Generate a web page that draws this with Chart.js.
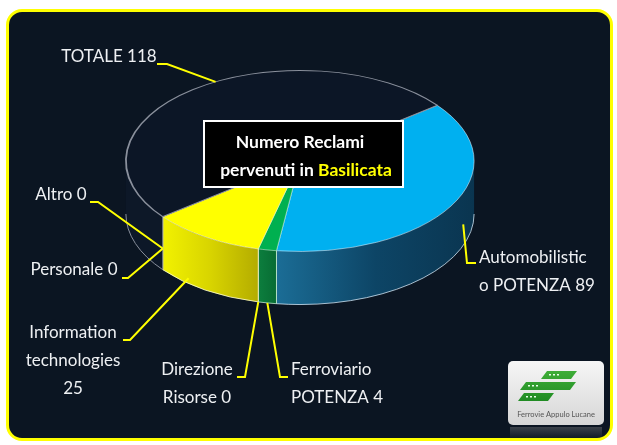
<!DOCTYPE html>
<html>
<head>
<meta charset="utf-8">
<script src="https://cdn.jsdelivr.net/npm/chart.js@4.4.0/dist/chart.umd.min.js"></script>
<style>
html, body { margin: 0; padding: 0; background: #ffffff; }
#wrap { position: relative; width: 617px; height: 445px; overflow: hidden; }
#panel { position: absolute; left: 6px; top: 9px; width: 601px; height: 426px;
  border: 3px solid #ffff00; border-radius: 16px; background: #0b1522; }
#PieChart { position: absolute; left: 0; top: 0; }
</style>
</head>
<body>
<div id="wrap">
  <div id="panel"></div>
  <canvas id="PieChart" width="617" height="445"></canvas>
</div>
<script>
// data, clockwise from the upper right
var categories = ["Automobilistico POTENZA", "Ferroviario POTENZA", "Direzione Risorse",
                  "Information technologies", "Personale", "Altro", "TOTALE"];
var values = [89, 4, 0, 25, 0, 0, 118];
var labelLines = [
  ["Automobilistic", "o POTENZA 89"],
  ["Ferroviario", "POTENZA 4"],
  ["Direzione", "Risorse 0"],
  ["Information", "technologies", "25"],
  ["Personale 0"],
  ["Altro 0"],
  ["TOTALE 118"]
];
var titleLines = ["Numero Reclami", "pervenuti in ", "Basilicata"];

// styling
var topColors = ["#00b0f0", "#00b050", "#00b050", "#ffff00", "#ffff00", "#ffff00", "#0c1626"];
var edgeColors = ["rgba(220,240,255,0.75)", "rgba(220,255,230,0.7)", "rgba(220,255,230,0.7)",
                  "rgba(255,255,220,0.8)", "rgba(255,255,220,0.8)", "rgba(255,255,220,0.8)", "#8a909c"];
var edgeWidths = [1, 1, 1, 1, 1, 1, 1.8];
var sideStops = [
  [[0, "#1b6d96"], [0.5, "#0d4566"], [1, "#0a3550"]],
  [[0, "#0c7e3e"], [1, "#086c33"]],
  [[0, "#0c7e3e"], [1, "#086c33"]],
  [[0, "#f2f200"], [0.5, "#d8d400"], [1, "#b4ac00"]],
  [[0, "#f2f200"], [1, "#b4ac00"]],
  [[0, "#f2f200"], [1, "#b4ac00"]],
  [[0, "#0d1828"], [1, "#0d1828"]]
];
// text anchor, elbow of each leader line, and where it touches the slice
var labelBoxes = [
  { x: 479, y: 258, align: "left",   elbow: [476, 467, 263], frac: 0.43, depth: 0.6 },
  { x: 291, y: 370, align: "left",   elbow: [288, 280, 377], frac: 0.5,  depth: 1 },
  { x: 197, y: 370, align: "center", elbow: [237, 245, 377], frac: 0,    depth: 1 },
  { x: 73,  y: 333, align: "center", elbow: [123, 130, 340], frac: 0.68, depth: 0.9 },
  { x: 74,  y: 270, align: "center", elbow: [122, 128, 278], frac: 0,    depth: 0.6 },
  { x: 61,  y: 195, align: "center", elbow: [90, 98, 202],   frac: 0,    depth: 0.6 },
  { x: 109, y: 57,  align: "center", elbow: [157, 167, 64],  frac: 0.55, depth: 0 }
];
var TILT = 0.52, DEPTH = 53, TOP_CY = 161;
var FONT = "Lato, 'Open Sans', sans-serif";

function topY(arc, a) { return TOP_CY + arc.outerRadius * TILT * Math.sin(a); }

var pie3d = {
  id: "pie3d",
  beforeDatasetsDraw: function (chart) {
    var ctx = chart.ctx;
    var arcs = chart.getDatasetMeta(0).data;
    arcs.forEach(function (arc, i) {
      if (!values[i]) return;
      var a1 = Math.max(arc.startAngle, 0), a2 = Math.min(arc.endAngle, Math.PI);
      if (a2 <= a1) return;
      var R = arc.outerRadius, cx = arc.x;
      var xl = cx + R * Math.cos(a2), xr = cx + R * Math.cos(a1);
      var g = ctx.createLinearGradient(xl, 0, xr, 0);
      sideStops[i].forEach(function (s) { g.addColorStop(s[0], s[1]); });
      ctx.save();
      ctx.beginPath();
      ctx.ellipse(cx, TOP_CY, R, R * TILT, 0, a1, a2, false);
      ctx.ellipse(cx, TOP_CY + DEPTH, R, R * TILT, 0, a2, a1, true);
      ctx.closePath();
      ctx.fillStyle = g;
      ctx.fill();
      ctx.lineWidth = 1;
      ctx.strokeStyle = edgeColors[i];
      ctx.beginPath();
      ctx.ellipse(cx, TOP_CY + DEPTH, R, R * TILT, 0, a1, a2, false);
      ctx.stroke();
      [a1, a2].forEach(function (a) {
        if (a === 0 || a === Math.PI) return;
        ctx.beginPath();
        ctx.moveTo(cx + R * Math.cos(a), topY(arc, a));
        ctx.lineTo(cx + R * Math.cos(a), topY(arc, a) + DEPTH);
        ctx.stroke();
      });
      ctx.restore();
    });
    // squash the library's own top faces into an ellipse
    ctx.save();
    ctx.translate(0, TOP_CY - arcs[0].y * TILT);
    ctx.scale(1, TILT);
  },
  afterDatasetsDraw: function (chart) {
    var ctx = chart.ctx;
    ctx.restore();
    var arcs = chart.getDatasetMeta(0).data;
    ctx.save();
    ctx.font = "17px " + FONT;
    ctx.textBaseline = "middle";
    arcs.forEach(function (arc, i) {
      var b = labelBoxes[i];
      var a = arc.startAngle + b.frac * (arc.endAngle - arc.startAngle);
      var ax = arc.x + arc.outerRadius * Math.cos(a);
      var ay = topY(arc, a) + b.depth * DEPTH;
      ctx.strokeStyle = "#ffff00";
      ctx.lineWidth = 2;
      ctx.beginPath();
      ctx.moveTo(b.elbow[0], b.elbow[2]);
      ctx.lineTo(b.elbow[1], b.elbow[2]);
      ctx.lineTo(ax, ay);
      ctx.stroke();
      ctx.fillStyle = "#eef0f3";
      ctx.textAlign = b.align;
      labelLines[i].forEach(function (t, k) { ctx.fillText(t, b.x, b.y + k * 28); });
    });
    ctx.restore();
  },
  afterDraw: function (chart) {
    var ctx = chart.ctx;
    ctx.save();
    // title box
    ctx.fillStyle = "#000000";
    ctx.fillRect(204, 121, 199, 66);
    ctx.strokeStyle = "#ffffff";
    ctx.lineWidth = 2;
    ctx.strokeRect(204, 121, 199, 66);
    ctx.font = "bold 17.5px " + FONT;
    ctx.textBaseline = "middle";
    ctx.textAlign = "center";
    ctx.fillStyle = "#ffffff";
    ctx.fillText(titleLines[0], 300, 142);
    var w1 = ctx.measureText(titleLines[1]).width, w2 = ctx.measureText(titleLines[2]).width;
    var x0 = 306 - (w1 + w2) / 2;
    ctx.textAlign = "left";
    ctx.fillText(titleLines[1], x0, 170);
    ctx.fillStyle = "#ffff00";
    ctx.fillText(titleLines[2], x0 + w1, 170);
    // logo
    var lg = ctx.createLinearGradient(0, 361, 0, 426);
    lg.addColorStop(0, "#f6f6f6");
    lg.addColorStop(1, "#d6d6d6");
    ctx.fillStyle = lg;
    ctx.beginPath();
    ctx.roundRect(508, 361, 96, 64, 5);
    ctx.fill();
    var sg = ctx.createLinearGradient(0, 370, 0, 402);
    sg.addColorStop(0, "#3fae38");
    sg.addColorStop(1, "#1f8a22");
    ctx.fillStyle = sg;
    [[541, 371, 30, 8], [520, 382, 50, 8], [518, 393, 30, 8]].forEach(function (s) {
      ctx.beginPath();
      ctx.moveTo(s[0] + 6, s[1]);
      ctx.lineTo(s[0] + s[2] + 6, s[1]);
      ctx.lineTo(s[0] + s[2], s[1] + s[3]);
      ctx.lineTo(s[0], s[1] + s[3]);
      ctx.closePath();
      ctx.fill();
    });
    ctx.fillStyle = "#eaffea";
    [[549, 374], [528, 385], [526, 396]].forEach(function (d) {
      for (var k = 0; k < 3; k++) ctx.fillRect(d[0] + k * 4, d[1], 2, 1.5);
    });
    ctx.fillStyle = "#555555";
    ctx.font = "7.5px " + FONT;
    ctx.textAlign = "center";
    ctx.fillText("Ferrovie Appulo Lucane", 556, 415);
    var rg = ctx.createLinearGradient(0, 427, 0, 440);
    rg.addColorStop(0, "rgba(150,150,150,0.35)");
    rg.addColorStop(1, "rgba(150,150,150,0)");
    ctx.fillStyle = rg;
    ctx.fillRect(510, 427, 92, 12);
    ctx.restore();
  }
};

var ctx = document.getElementById("PieChart").getContext("2d");
var myChart = new Chart(ctx, {
  type: "pie",
  data: {
    labels: categories,
    datasets: [{
      data: values,
      backgroundColor: topColors,
      borderColor: edgeColors,
      borderWidth: edgeWidths,
      clip: false
    }]
  },
  options: {
    responsive: false,
    animation: false,
    rotation: 52,
    layout: { padding: { left: 125, right: 142, top: 47, bottom: 48 } },
    plugins: {
      legend: { display: false },
      tooltip: { enabled: false },
      title: { display: false }
    },
    events: []
  },
  plugins: [pie3d]
});
</script>
</body>
</html>
